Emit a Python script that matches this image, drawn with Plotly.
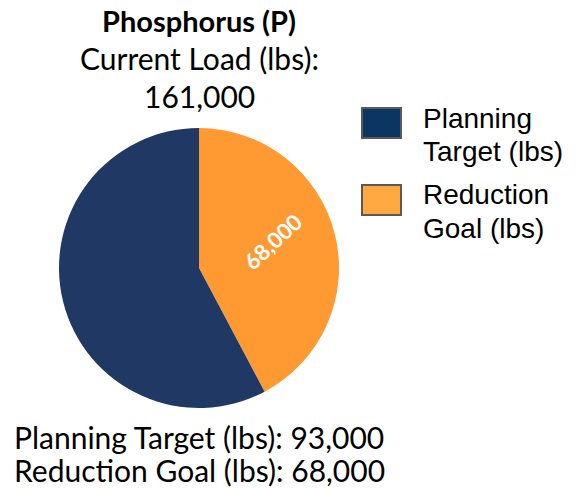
import math
import plotly.graph_objects as go

labels = ["Reduction Goal (lbs)", "Planning Target (lbs)"]
values = [68000, 93000]
pie_colors = ["#FF9A33", "#203864"]
legend_colors = ["#FFA940", "#0B3562"]
legend_lines = [["Planning", "Target (lbs)"], ["Reduction", "Goal (lbs)"]]
title_text = "<b>Phosphorus (P)</b>"
total = sum(values)

W, H = 578, 489
fig = go.Figure()
fig.add_trace(go.Pie(
    labels=labels, values=values, sort=False, direction="clockwise", rotation=0,
    marker=dict(colors=pie_colors, line=dict(width=0)),
    textinfo="none", hoverinfo="label+value", showlegend=False,
    domain=dict(x=[59 / W, 339 / W], y=[81 / H, 361 / H]),
))

def px(x, y):
    return x / W, 1 - y / H

annos = []
font_c = dict(family="Lato, Open Sans, sans-serif", size=30, color="black")
font_b = dict(family="Lato, Open Sans, sans-serif", size=29, color="black")
x, y = px(199, 20)
annos.append(dict(x=x, y=y, text=title_text, font=font_b))
x, y = px(199, 58)
annos.append(dict(x=x, y=y, text="Current Load (lbs):", font=font_c))
x, y = px(199, 96)
annos.append(dict(x=x, y=y, text=f"{total:,}", font=font_c))
x, y = px(199, 437)
annos.append(dict(x=x, y=y, text=f"Planning Target (lbs): {values[1]:,}", font=font_c))
x, y = px(199, 470)
annos.append(dict(x=x, y=y, text=f"Reduction Goal (lbs): {values[0]:,}", font=font_c))

# slice label for reduction goal, placed from data
cx, cy, r = 199, 268, 140
mid = values[0] / total * math.pi * 0.92
lx, ly = cx + 0.56 * r * math.sin(mid), cy - 0.56 * r * math.cos(mid)
x, y = px(lx, ly)
annos.append(dict(x=x, y=y, text=f"<b>{values[0]:,}</b>", textangle=-43,
                  font=dict(family="Lato, sans-serif", size=22, color="white")))

shapes = []
leg_font = dict(family="Liberation Sans, Arial, sans-serif", size=28, color="black")
for i, (lines, c) in enumerate(zip(legend_lines, [legend_colors[1], legend_colors[0]])):
    top = 108 + i * 77
    x0, y0 = px(362, top)
    x1, y1 = px(401, top + 30)
    shapes.append(dict(type="rect", xref="paper", yref="paper", x0=x0, x1=x1, y0=y1, y1=y0,
                       fillcolor=c, line=dict(color="#595959", width=2)))
    for j, t in enumerate(lines):
        x, y = px(421, top + 10 + j * 33)
        annos.append(dict(x=x, y=y, text=t, font=leg_font, xanchor="left", align="left"))

for a in annos:
    a.setdefault("xanchor", "center")
    a.update(xref="paper", yref="paper", showarrow=False, yanchor="middle")

fig.update_layout(width=W, height=H, margin=dict(l=0, r=0, t=0, b=0),
                  paper_bgcolor="white", plot_bgcolor="white",
                  annotations=annos, shapes=shapes)
fig.write_html("out.html", config={"displayModeBar": False},
               post_script="document.body.style.margin='0';")
